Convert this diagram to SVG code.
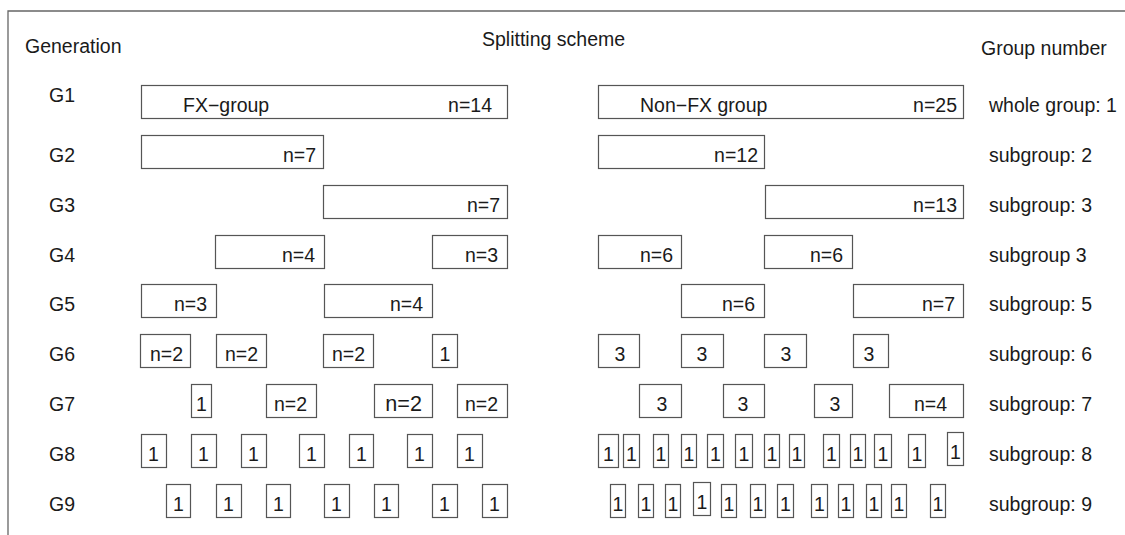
<svg xmlns="http://www.w3.org/2000/svg" width="1125" height="535" viewBox="0 0 1125 535">
<style>
text{font-family:"Liberation Sans",Arial,sans-serif;font-size:19.5px;fill:#1a1a1a}
.b{fill:#fff;stroke:#555;stroke-width:1.2}
.e{text-anchor:end}
.m{text-anchor:middle}
.big{font-size:21.6px}
.frame{fill:none;stroke:#666;stroke-width:1.3}
</style>
<rect width="1125" height="535" fill="#fff"/>
<polyline class="frame" points="8,535 8,11 1125,11"/>
<g id="headers">
<text x="25" y="53">Generation</text>
<text x="482" y="46">Splitting scheme</text>
<text x="981" y="55">Group number</text>
</g>
<g id="generations">
<text x="49" y="102">G1</text>
<text x="49" y="161.5">G2</text>
<text x="49" y="211.5">G3</text>
<text x="49" y="261.5">G4</text>
<text x="49" y="310.5">G5</text>
<text x="49" y="360.5">G6</text>
<text x="49" y="410.5">G7</text>
<text x="49" y="460.5">G8</text>
<text x="49" y="510.5">G9</text>
</g>
<g id="groupnumbers">
<text x="989" y="111.5">whole group: 1</text>
<text x="989" y="161.5">subgroup: 2</text>
<text x="989" y="211.5">subgroup: 3</text>
<text x="989" y="261.5">subgroup 3</text>
<text x="989" y="310.5">subgroup: 5</text>
<text x="989" y="360.5">subgroup: 6</text>
<text x="989" y="410.5">subgroup: 7</text>
<text x="989" y="460.5">subgroup: 8</text>
<text x="989" y="510.5">subgroup: 9</text>
</g>
<g id="connectors"></g>
<g id="fx-G1"><rect class="b" x="141.5" y="85.5" width="366" height="33"/><text x="183" y="111.5">FX−group</text><text class="e" x="492" y="111.5">n=14</text></g>
<g id="nonfx-G1"><rect class="b" x="598.5" y="85.5" width="365" height="33"/><text x="640" y="111.5">Non−FX group</text><text class="e" x="957" y="111.5">n=25</text></g>
<g id="fx-G2"><rect class="b" x="141.5" y="135.5" width="182" height="33"/><text class="e" x="316" y="161.5">n=7</text></g>
<g id="nonfx-G2"><rect class="b" x="598.5" y="135.5" width="166" height="33"/><text class="e" x="758" y="161.5">n=12</text></g>
<g id="fx-G3"><rect class="b" x="323.5" y="185.5" width="184" height="33"/><text class="e" x="500" y="211.5">n=7</text></g>
<g id="nonfx-G3"><rect class="b" x="765.5" y="185.5" width="198" height="33"/><text class="e" x="957" y="211.5">n=13</text></g>
<g id="fx-G4a"><rect class="b" x="215.5" y="235.5" width="109" height="33"/><text class="e" x="315" y="261.5">n=4</text></g>
<g id="fx-G4b"><rect class="b" x="432.5" y="235.5" width="75" height="33"/><text class="e" x="498" y="261.5">n=3</text></g>
<g id="nonfx-G4a"><rect class="b" x="598.5" y="235.5" width="83" height="33"/><text class="e" x="673" y="261.5">n=6</text></g>
<g id="nonfx-G4b"><rect class="b" x="764.5" y="235.5" width="88" height="33"/><text class="e" x="843" y="261.5">n=6</text></g>
<g id="fx-G5a"><rect class="b" x="141.5" y="284.5" width="75" height="33"/><text class="e" x="207" y="310.5">n=3</text></g>
<g id="fx-G5b"><rect class="b" x="324.5" y="284.5" width="108" height="33"/><text class="e" x="423" y="310.5">n=4</text></g>
<g id="nonfx-G5a"><rect class="b" x="681.5" y="284.5" width="83" height="33"/><text class="e" x="755" y="310.5">n=6</text></g>
<g id="nonfx-G5b"><rect class="b" x="853.5" y="284.5" width="110" height="33"/><text class="e" x="955" y="310.5">n=7</text></g>
<g id="fx-G6a"><rect class="b" x="140.5" y="334.5" width="50" height="33"/><text class="e" x="183" y="360.5">n=2</text></g>
<g id="fx-G6b"><rect class="b" x="216.5" y="334.5" width="50" height="33"/><text class="e" x="258" y="360.5">n=2</text></g>
<g id="fx-G6c"><rect class="b" x="323.5" y="334.5" width="50" height="33"/><text class="e" x="365" y="360.5">n=2</text></g>
<g id="fx-G6d"><rect class="b" x="432.5" y="334.5" width="25" height="33"/><text class="m" x="445" y="360.5">1</text></g>
<g id="nonfx-G6a"><rect class="b" x="598.5" y="334.5" width="41" height="33"/><text class="m" x="620" y="360.5">3</text></g>
<g id="nonfx-G6b"><rect class="b" x="681.5" y="334.5" width="42" height="33"/><text class="m" x="702" y="360.5">3</text></g>
<g id="nonfx-G6c"><rect class="b" x="764.5" y="334.5" width="42" height="33"/><text class="m" x="786" y="360.5">3</text></g>
<g id="nonfx-G6d"><rect class="b" x="853.5" y="334.5" width="35" height="33"/><text class="m" x="869" y="360.5">3</text></g>
<g id="fx-G7a"><rect class="b" x="191.5" y="384.5" width="20" height="33"/><text class="m" x="201.5" y="410.5">1</text></g>
<g id="fx-G7b"><rect class="b" x="266.5" y="384.5" width="50" height="33"/><text class="e" x="307" y="410.5">n=2</text></g>
<g id="fx-G7c"><rect class="b" x="374.5" y="384.5" width="58" height="33"/><text class="e big" x="422" y="410.5">n=2</text></g>
<g id="fx-G7d"><rect class="b" x="457.5" y="384.5" width="50" height="33"/><text class="e" x="498" y="410.5">n=2</text></g>
<g id="nonfx-G7a"><rect class="b" x="639.5" y="384.5" width="42" height="33"/><text class="m" x="662" y="410.5">3</text></g>
<g id="nonfx-G7b"><rect class="b" x="723.5" y="384.5" width="41" height="33"/><text class="m" x="743" y="410.5">3</text></g>
<g id="nonfx-G7c"><rect class="b" x="814.5" y="384.5" width="38" height="33"/><text class="m" x="835" y="410.5">3</text></g>
<g id="nonfx-G7d"><rect class="b" x="889.5" y="384.5" width="74" height="33"/><text class="e" x="947" y="410.5">n=4</text></g>
<g id="fx-G8">
<g id="fx-G8-1"><rect class="b" x="141.5" y="434.5" width="25" height="33"/><text class="m" x="153.5" y="460.5">1</text></g>
<g id="fx-G8-2"><rect class="b" x="191.5" y="434.5" width="25" height="33"/><text class="m" x="203.5" y="460.5">1</text></g>
<g id="fx-G8-3"><rect class="b" x="241.5" y="434.5" width="25" height="33"/><text class="m" x="253.5" y="460.5">1</text></g>
<g id="fx-G8-4"><rect class="b" x="299.5" y="434.5" width="25" height="33"/><text class="m" x="311.5" y="460.5">1</text></g>
<g id="fx-G8-5"><rect class="b" x="349.5" y="434.5" width="24" height="33"/><text class="m" x="361.5" y="460.5">1</text></g>
<g id="fx-G8-6"><rect class="b" x="407.5" y="434.5" width="25" height="33"/><text class="m" x="419.5" y="460.5">1</text></g>
<g id="fx-G8-7"><rect class="b" x="457.5" y="434.5" width="25" height="33"/><text class="m" x="469.5" y="460.5">1</text></g>
</g>
<g id="fx-G9">
<g id="fx-G9-1"><rect class="b" x="166.5" y="484.5" width="24" height="33"/><text class="m" x="178.5" y="510.5">1</text></g>
<g id="fx-G9-2"><rect class="b" x="216.5" y="484.5" width="25" height="33"/><text class="m" x="228.5" y="510.5">1</text></g>
<g id="fx-G9-3"><rect class="b" x="266.5" y="484.5" width="24" height="33"/><text class="m" x="278.5" y="510.5">1</text></g>
<g id="fx-G9-4"><rect class="b" x="324.5" y="484.5" width="25" height="33"/><text class="m" x="336.5" y="510.5">1</text></g>
<g id="fx-G9-5"><rect class="b" x="374.5" y="484.5" width="24" height="33"/><text class="m" x="386.5" y="510.5">1</text></g>
<g id="fx-G9-6"><rect class="b" x="432.5" y="484.5" width="25" height="33"/><text class="m" x="444.5" y="510.5">1</text></g>
<g id="fx-G9-7"><rect class="b" x="482.5" y="484.5" width="25" height="33"/><text class="m" x="494.5" y="510.5">1</text></g>
</g>
<g id="nonfx-G8">
<g id="nonfx-G8-1"><rect class="b" x="598.5" y="434.5" width="20" height="33"/><text class="m" x="608.5" y="460.5">1</text></g>
<g id="nonfx-G8-2"><rect class="b" x="623.5" y="434.5" width="16" height="33"/><text class="m" x="631.5" y="460.5">1</text></g>
<g id="nonfx-G8-3"><rect class="b" x="653.5" y="434.5" width="15" height="33"/><text class="m" x="661" y="460.5">1</text></g>
<g id="nonfx-G8-4"><rect class="b" x="681.5" y="434.5" width="15" height="33"/><text class="m" x="689" y="460.5">1</text></g>
<g id="nonfx-G8-5"><rect class="b" x="707.5" y="434.5" width="16" height="33"/><text class="m" x="715.5" y="460.5">1</text></g>
<g id="nonfx-G8-6"><rect class="b" x="735.5" y="434.5" width="17" height="33"/><text class="m" x="744" y="460.5">1</text></g>
<g id="nonfx-G8-7"><rect class="b" x="764.5" y="434.5" width="15" height="33"/><text class="m" x="772" y="460.5">1</text></g>
<g id="nonfx-G8-8"><rect class="b" x="789.5" y="434.5" width="15" height="33"/><text class="m" x="797" y="460.5">1</text></g>
<g id="nonfx-G8-9"><rect class="b" x="823.5" y="434.5" width="16" height="33"/><text class="m" x="831.5" y="460.5">1</text></g>
<g id="nonfx-G8-10"><rect class="b" x="850.5" y="434.5" width="15" height="33"/><text class="m" x="858" y="460.5">1</text></g>
<g id="nonfx-G8-11"><rect class="b" x="874.5" y="434.5" width="17" height="33"/><text class="m" x="883" y="460.5">1</text></g>
<g id="nonfx-G8-12"><rect class="b" x="908.5" y="434.5" width="17" height="33"/><text class="m" x="917" y="460.5">1</text></g>
<g id="nonfx-G8-13"><rect class="b" x="947.5" y="432.5" width="16" height="33"/><text class="m" x="955.5" y="458.5">1</text></g>
</g>
<g id="nonfx-G9">
<g id="nonfx-G9-1"><rect class="b" x="610.5" y="484.5" width="15" height="33"/><text class="m" x="618" y="510.5">1</text></g>
<g id="nonfx-G9-2"><rect class="b" x="638.5" y="484.5" width="15" height="33"/><text class="m" x="646" y="510.5">1</text></g>
<g id="nonfx-G9-3"><rect class="b" x="665.5" y="484.5" width="15" height="33"/><text class="m" x="673" y="510.5">1</text></g>
<g id="nonfx-G9-4"><rect class="b" x="693.5" y="482.5" width="17" height="33"/><text class="m" x="702" y="508.5">1</text></g>
<g id="nonfx-G9-5"><rect class="b" x="721.5" y="484.5" width="15" height="33"/><text class="m" x="729" y="510.5">1</text></g>
<g id="nonfx-G9-6"><rect class="b" x="750.5" y="484.5" width="15" height="33"/><text class="m" x="758" y="510.5">1</text></g>
<g id="nonfx-G9-7"><rect class="b" x="777.5" y="484.5" width="16" height="33"/><text class="m" x="785.5" y="510.5">1</text></g>
<g id="nonfx-G9-8"><rect class="b" x="811.5" y="484.5" width="16" height="33"/><text class="m" x="819.5" y="510.5">1</text></g>
<g id="nonfx-G9-9"><rect class="b" x="838.5" y="484.5" width="15" height="33"/><text class="m" x="846" y="510.5">1</text></g>
<g id="nonfx-G9-10"><rect class="b" x="866.5" y="484.5" width="15" height="33"/><text class="m" x="874" y="510.5">1</text></g>
<g id="nonfx-G9-11"><rect class="b" x="891.5" y="484.5" width="15" height="33"/><text class="m" x="899" y="510.5">1</text></g>
<g id="nonfx-G9-12"><rect class="b" x="930.5" y="484.5" width="15" height="33"/><text class="m" x="938" y="510.5">1</text></g>
</g>
</svg>
